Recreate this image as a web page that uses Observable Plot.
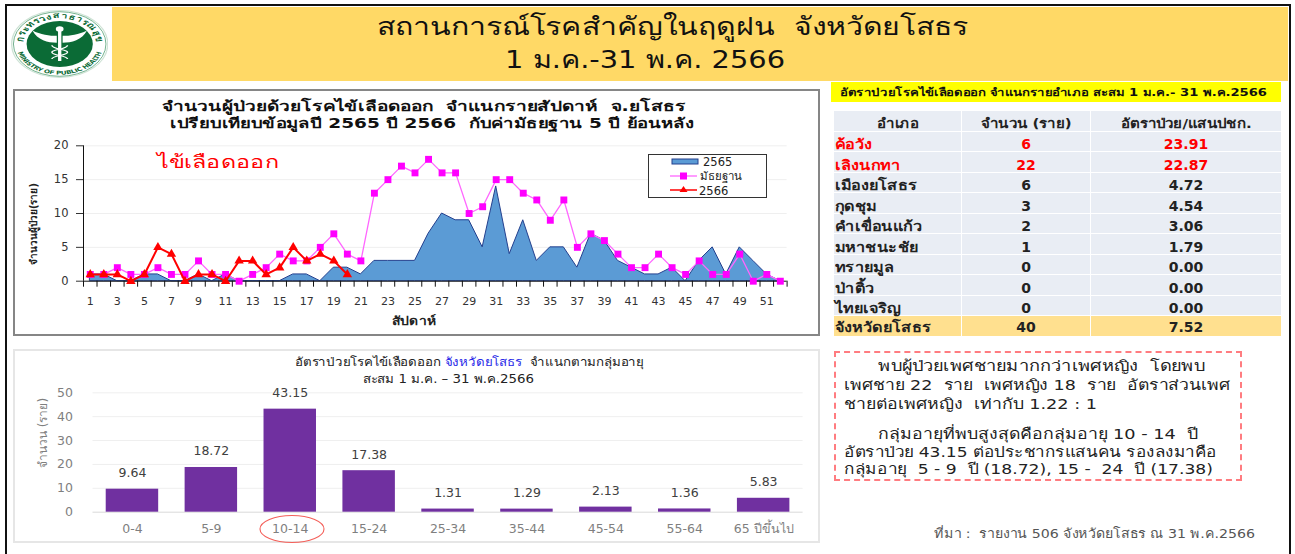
<!DOCTYPE html>
<html lang="th">
<head>
<meta charset="utf-8">
<script src="https://cdn.jsdelivr.net/npm/d3@7"></script>
<script src="https://cdn.jsdelivr.net/npm/@observablehq/plot@0.6"></script>
<style>
html,body{margin:0;padding:0;background:#fff;}
body{width:1295px;height:554px;position:relative;overflow:hidden;font-family:"DejaVu Sans","Noto Sans",sans-serif;}
.abs{position:absolute;}
.t{position:absolute;white-space:pre;transform-origin:left center;line-height:1;}
table{position:absolute;left:833px;top:110px;width:449px;border-collapse:separate;border-spacing:1px;table-layout:fixed;font-weight:bold;font-size:14px;color:#222;}
td{background:#E9EDF4;text-align:center;padding:0;height:19.5px;line-height:1;overflow:visible;white-space:nowrap;}
td.first{text-align:left;padding-left:1px;}
td span{display:inline-block;transform:scaleX(1.16);position:relative;top:3px;}
td.first span{transform-origin:left center;}
tr.head td{text-align:center;font-size:13px;}
tr.head td.first{padding-left:0;}
tr.head td.first span{transform-origin:center;}
tr.hot td{color:#FF0000;}
tr.tot td{background:#FFE08F;}
tr.tot td span{top:1px;}
</style>
</head>
<body>
<div id="root"></div>
<script>
const weeks = d3.range(1, 53);
const cases2565 = [1,1,0,0,1,1,0,0,1,0,1,0,0,0,0,1,1,0,2,2,1,3,3,3,3,7,10,9,9,5,14,4,9,3,5,5,2,7,6,3,2,1,1,2,0,3,5,1,5,3,1,0];
const median5yr = [1,1,2,1,1,2,1,1,3,1,1,0,1,2,4,3,3,5,7,4,3,13,15,17,16,18,16,16,10,11,15,15,13,12,9,12,5,7,6,4,2,2,4,2,1,3,1,1,4,0,1,0];
const cases2566 = [1,1,1,0,1,5,4,0,1,1,0,3,3,1,2,5,3,4,3,1];
const ageGroups = ["0-4","5-9","10-14","15-24","25-34","35-44","45-54","55-64","65 ปีขึ้นไป"];
const ageRates = [9.64,18.72,43.15,17.38,1.31,1.29,2.13,1.36,5.83];
const districts = ["ค้อวัง","เลิงนกทา","เมืองยโสธร","กุดชุม","คำเขื่อนแก้ว","มหาชนะชัย","ทรายมูล","ป่าติ้ว","ไทยเจริญ","จังหวัดยโสธร"];
const districtCases = ["6","22","6","3","2","1","0","0","0","40"];
const districtRates = ["23.91","22.87","4.72","4.54","3.06","1.79","0.00","0.00","0.00","7.52"];
const tableHead = ["อำเภอ","จำนวน (ราย)","อัตราป่วย/แสนปชก."];

const root = document.getElementById("root");
function box(x,y,w,h,css){const d=document.createElement("div");d.className="abs";d.style.cssText=`left:${x}px;top:${y}px;width:${w}px;height:${h}px;box-sizing:border-box;${css||""}`;root.appendChild(d);return d;}
// text placed from its left edge x to right edge x2, vertically centred on y
function put(s,x,x2,y,size,css){
  const d=document.createElement("div");d.className="t";
  d.style.cssText=`left:${x}px;top:${y}px;font-size:${size}px;transform:translateY(-50%);${css||""}`;
  d.innerHTML=s;root.appendChild(d);
  const k=(x2-x)/d.getBoundingClientRect().width;
  d.style.transform=`translateY(-50%) scaleX(${k})`;
  return d;
}
function rot(s,cx,cy,size,css){const d=document.createElement("div");d.className="t";d.style.cssText=`left:${cx}px;top:${cy}px;font-size:${size}px;transform-origin:center;transform:translate(-50%,-50%) rotate(-90deg);${css||""}`;d.innerHTML=s;root.appendChild(d);return d;}

// frame & panels
box(5,4,1286,560,"border:2px solid #111;border-bottom:none;");
box(112,7,1176,74,"background:#FFD966;");
box(13,89,807,247,"border:2px solid #868686;");
box(13,349,807,194,"border:2px solid #E6E6E6;");
box(831,82,450,20,"background:#FFFF00;");
box(834,351,408,130,"border:2px dashed #FF7C80;");

// logo
const logo=box(11,10,97.4,68);
logo.innerHTML=`<svg width="97.4" height="68" viewBox="0 0 100 100" preserveAspectRatio="none" style="display:block">
<defs><path id="la" d="M 12 50 A 38 38 0 0 1 88 50"/><path id="lb" d="M 5 50 A 45 45 0 0 0 95 50"/></defs>
<circle cx="50" cy="50" r="49.3" fill="#fff" stroke="#cfe3d6" stroke-width="1.4"/>
<circle cx="50" cy="50" r="47.5" fill="none" stroke="#2E8B57" stroke-width="0.8"/>
<circle cx="50" cy="50" r="34" fill="#0B6B36"/>
<text font-size="11" font-weight="bold" fill="#0B6B36" text-anchor="middle"><textPath href="#la" startOffset="50%" textLength="112">กระทรวงสาธารณสุข</textPath></text>
<text font-size="7.5" font-weight="bold" fill="#0B6B36" text-anchor="middle"><textPath href="#lb" startOffset="50%" textLength="116">MINISTRY OF PUBLIC HEALTH</textPath></text>
<g fill="#fff"><rect x="48.3" y="25" width="3.4" height="50"/><circle cx="50" cy="28" r="4"/>
<path d="M 47 38 C 40 38 30 36 22 30 C 27 44 38 48 47 48 Z"/><path d="M 53 38 C 60 38 70 36 78 30 C 73 44 62 48 53 48 Z"/>
<path d="M 42 52 C 42 58 58 58 58 62 C 58 67 42 67 42 72" fill="none" stroke="#fff" stroke-width="1.6"/>
<path d="M 58 52 C 58 58 42 58 42 62 C 42 67 58 67 58 72" fill="none" stroke="#fff" stroke-width="1.6"/></g></svg>`;

// header
put("สถานการณ์โรคสำคัญในฤดูฝน  จังหวัดยโสธร",377,968,26,25,"color:#111;");
put("1 ม.ค.-31 พ.ค. 2566",505,785,60,24,"color:#111;");

// chart 1
const weekly = weeks.map((w,i)=>({w,v:cases2565[i],m:median5yr[i]}));
const c26 = cases2566.map((v,i)=>({w:i+1,v}));
const bounds = d3.range(0,53).map(d=>d+0.5);
const odd = weeks.filter(d=>d%2===1);
const p1 = Plot.plot({
  width:805,height:245,marginLeft:69,marginRight:32.4,marginTop:55.3,marginBottom:54.3,
  style:{background:"transparent",fontFamily:"'DejaVu Sans',sans-serif",overflow:"visible"},
  x:{type:"linear",domain:[0.5,52.5]},
  y:{domain:[0,20]},
  marks:[
    Plot.gridY([5,10,15,20],{stroke:"#EFEFEF",strokeOpacity:1}),
    Plot.areaY(weekly,{x:"w",y:"v",fill:"#5B9BD5",stroke:"#24408E",strokeWidth:1}),
    Plot.ruleY([0],{stroke:"#111"}),
    Plot.ruleX([0.5],{stroke:"#111"}),
    Plot.axisY({ticks:[0,5,10,15,20],tickSize:7,tickPadding:8,fontSize:11.5,color:"#333",label:null}),
    Plot.axisX({ticks:bounds,tickSize:6,tickFormat:()=>"",label:null,color:"#111"}),
    Plot.axisX({ticks:odd,tickSize:0,tickPadding:16,fontSize:11,color:"#333",label:null,tickFormat:d=>d}),
    Plot.line(weekly,{x:"w",y:"m",stroke:"#FF66FF",strokeWidth:1.3}),
    Plot.dot(weekly,{x:"w",y:"m",symbol:"square",r:3.9,fill:"#FF00FF",stroke:"none"}),
    Plot.line(c26,{x:"w",y:"v",stroke:"#FF0000",strokeWidth:2}),
    Plot.dot(c26,{x:"w",y:"v",symbol:"triangle",r:3.5,fill:"#FF0000",stroke:"none"})
  ]
});
const h1=box(14,90,805,245);h1.appendChild(p1);
put("จำนวนผู้ป่วยด้วยโรคไข้เลือดออก  จำแนกรายสัปดาห์  จ.ยโสธร",162,686,106,14,"font-weight:bold;color:#111;");
put("เปรียบเทียบข้อมูลปี 2565 ปี 2566  กับค่ามัธยฐาน 5 ปี ย้อนหลัง",170,694,123,14,"font-weight:bold;color:#111;");
put("ไข้เลือดออก",157,279,162,18,"color:#FF0000;");
put("สัปดาห์",392,436,321,12,"font-weight:bold;color:#222;");
rot("จำนวนผู้ป่วย(ราย)",34,224,10,"font-weight:bold;color:#222;");

// legend for chart 1
const lg=box(648,154,120,45,"");
lg.innerHTML=`<svg width="120" height="45" style="font-family:'DejaVu Sans',sans-serif;font-size:11.5px;fill:#222">
<rect x="0.5" y="0.5" width="118" height="43" fill="#fff" stroke="#333"/>
<rect x="24" y="5" width="26" height="5" fill="#5B9BD5" stroke="#24408E"/><text x="55" y="11.5">2565</text>
<line x1="22" x2="49" y1="22" y2="22" stroke="#FF66FF" stroke-width="1.3"/><rect x="32" y="18.5" width="7" height="7" fill="#FF00FF"/><text x="52" y="26">มัธยฐาน</text>
<line x1="22" x2="49" y1="36" y2="36" stroke="#FF0000" stroke-width="1.5"/><path d="M 35.5 32 L 39.5 38 L 31.5 38 Z" fill="#FF0000"/><text x="51" y="40.5">2566</text></svg>`;

// chart 2
const ages = ageGroups.map((g,i)=>({g,v:ageRates[i]}));
const p2 = Plot.plot({
  width:805,height:192,marginLeft:78.5,marginRight:16.4,marginTop:42.3,marginBottom:30.3,
  style:{background:"transparent",fontFamily:"'DejaVu Sans',sans-serif",overflow:"visible"},
  x:{domain:ageGroups,paddingInner:0.335,paddingOuter:0.1675,align:0.5,round:false},
  y:{domain:[0,50]},
  marks:[
    Plot.gridY([10,20,30,40,50],{stroke:"#EFEFEF",strokeOpacity:1}),
    Plot.ruleY([0],{stroke:"#D9D9D9"}),
    Plot.barY(ages,{x:"g",y:"v",fill:"#7030A0"}),
    Plot.text(ages,{x:"g",y:"v",text:d=>d.v.toFixed(2),dy:-16,fontSize:12.5,fill:"#404040"}),
    Plot.axisY({ticks:[0,10,20,30,40,50],tickSize:0,tickPadding:20,fontSize:12.5,color:"#7F7F7F",label:null}),
    Plot.axisX({tickSize:0,tickPadding:12,fontSize:12.5,color:"#7F7F7F",label:null})
  ]
});
const h2=box(14,350,805,192);h2.appendChild(p2);
put('อัตราป่วยโรคไข้เลือดออก <span style="color:#2A2AE8">จังหวัดยโสธร</span>  จำแนกตามกลุ่มอายุ',295,644,362,12,"color:#222;");
put("สะสม 1 ม.ค. – 31 พ.ค.2566",363,534,379,12,"color:#222;");
rot("จำนวน (ราย)",43,433,12,"color:#7F7F7F;");
const ell=box(255,512,74,36);
ell.innerHTML=`<svg width="74" height="36"><ellipse cx="37" cy="17" rx="32" ry="13.5" fill="none" stroke="#F4605A" stroke-width="1.1"/></svg>`;

// right column
put("อัตราป่วยโรคไข้เลือดออก จำแนกรายอำเภอ สะสม 1 ม.ค.- 31 พ.ค.2566",840,1267,91.5,10.5,"font-weight:bold;color:#111;");
const tbl=document.createElement("table");
const cg=document.createElement("colgroup");
[127,128,190].forEach(w=>{const c=document.createElement("col");c.style.width=w+"px";cg.appendChild(c);});
tbl.appendChild(cg);
function row(a,cls){const tr=document.createElement("tr");if(cls)tr.className=cls;a.forEach((s,j)=>{const td=document.createElement("td");if(j===0)td.className="first";const sp=document.createElement("span");sp.textContent=s;if(/^[0-9.]+$/.test(s))sp.style.transform="none";td.appendChild(sp);tr.appendChild(td);});tbl.appendChild(tr);}
row(tableHead,"head");
districts.forEach((d,i)=>row([d,districtCases[i],districtRates[i]],i<2?"hot":(i===9?"tot":"")));
root.appendChild(tbl);

const noteLines=[
 ["พบผู้ป่วยเพศชายมากกว่าเพศหญิง  โดยพบ",878,1205,366],
 ["เพศชาย 22  ราย  เพศหญิง 18  ราย  อัตราส่วนเพศ",844,1230,385],
 ["ชายต่อเพศหญิง  เท่ากับ 1.22 : 1",844,1097,404],
 ["กลุ่มอายุที่พบสูงสุดคือกลุ่มอายุ 10 - 14  ปี",878,1198,434],
 ["อัตราป่วย 43.15 ต่อประชากรแสนคน รองลงมาคือ",844,1217,452],
 ["กลุ่มอายุ  5 - 9  ปี (18.72), 15 -  24  ปี (17.38)",844,1213,469]
];
noteLines.forEach(l=>put(l[0],l[1],l[2],l[3],14.5,"color:#222;"));
put("ที่มา :  รายงาน 506 จังหวัดยโสธร ณ 31 พ.ค.2566",934,1255,533,13,"color:#555;");
</script>
</body>
</html>
